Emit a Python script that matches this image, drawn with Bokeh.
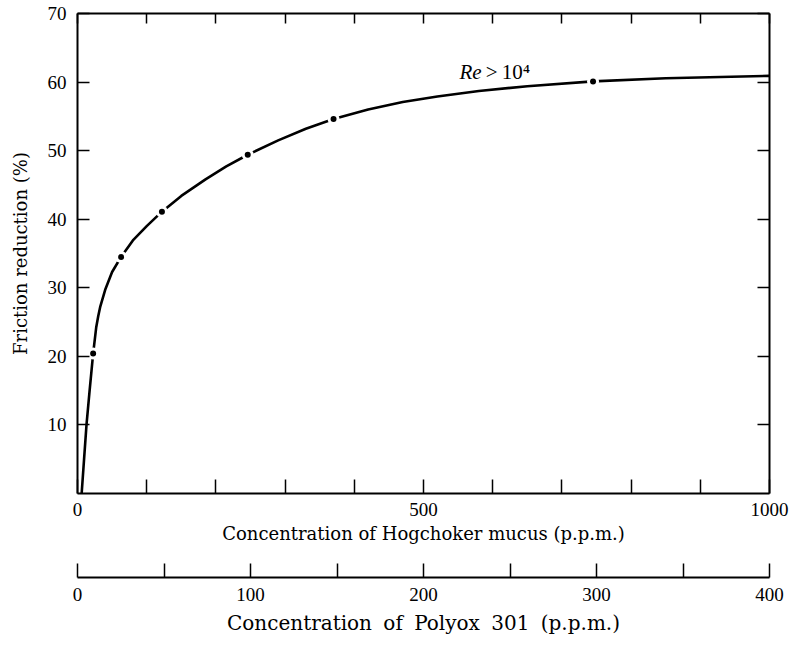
from bokeh.plotting import figure
from bokeh.models import (LinearAxis, Range1d, FixedTicker, Label, ColumnDataSource,
                          CustomLabelingPolicy)
from bokeh.layouts import column
from bokeh.embed import file_html
from bokeh.resources import INLINE

# ---- data ----
hog_conc = [6, 9.5, 13, 17.5, 22.6, 27, 30, 33, 40, 50, 63, 80, 100, 122, 150, 185,
            215, 246, 290, 330, 370, 420, 470, 520, 580, 650, 745, 850, 1000]
friction = [0, 5, 10, 15, 20.4, 24.2, 25.9, 27.3, 29.7, 32.3, 34.5, 36.9, 39.0, 41.1,
            43.4, 45.8, 47.7, 49.4, 51.5, 53.2, 54.6, 56.0, 57.1, 57.9, 58.7, 59.4,
            60.1, 60.55, 60.9]
pt_conc = [22.6, 63, 122, 246, 370, 745]
pt_friction = [20.4, 34.5, 41.1, 49.4, 54.6, 60.1]

hog_major = [0, 500, 1000]
hog_minor = [100, 200, 300, 400, 600, 700, 800, 900]
poly_major = [0, 100, 200, 300, 400]
poly_minor = [50, 150, 250, 350]
y_ticks = [10, 20, 30, 40, 50, 60, 70]

TICK_FONT = "Liberation Serif"
TITLE_FONT = "DejaVu Serif"

curve = ColumnDataSource(dict(x=hog_conc, y=friction))
pts = ColumnDataSource(dict(x=pt_conc, y=pt_friction))

p = figure(width=790, height=562, x_range=Range1d(0, 1000), y_range=Range1d(0, 70),
           min_border_left=77, min_border_right=21, min_border_top=13,
           min_border_bottom=69, output_backend="svg", toolbar_location=None)
p.outline_line_color = None
p.xgrid.visible = False
p.ygrid.visible = False
p.background_fill_color = "white"
p.border_fill_color = "white"

no_labels = CustomLabelingPolicy(code="""
    for (const i of Array.from(indices)) indices.unset(i)
    return indices
""")

def style_axis(ax, tick_len, labels=True):
    ax.axis_line_width = 2
    ax.axis_line_color = "black"
    ax.major_tick_in = tick_len
    ax.major_tick_out = 0
    ax.minor_tick_in = tick_len
    ax.minor_tick_out = 0
    ax.major_tick_line_width = 1.5
    ax.minor_tick_line_width = 1.5
    ax.major_tick_line_color = "black"
    ax.minor_tick_line_color = "black"
    ax.major_label_text_font = TICK_FONT
    ax.major_label_text_font_size = "19px"
    ax.major_label_text_color = "black"
    if not labels:
        ax.major_label_policy = no_labels
        ax.major_label_text_font_size = "0px"
        ax.major_label_standoff = 0
    ax.axis_label_text_font = TITLE_FONT
    ax.axis_label_text_font_style = "normal"
    ax.axis_label_text_font_size = "18px"
    ax.axis_label_text_color = "black"

xa = p.xaxis[0]
xa.ticker = FixedTicker(ticks=hog_major, minor_ticks=hog_minor)
style_axis(xa, 14)
xa.major_label_standoff = 9
xa.axis_label = "Concentration of Hogchoker mucus (p.p.m.)"
xa.axis_label_standoff = 4

ya = p.yaxis[0]
ya.ticker = FixedTicker(ticks=y_ticks, minor_ticks=[])
style_axis(ya, 12)
ya.major_label_standoff = 11
ya.axis_label = "Friction reduction (%)"
ya.axis_label_standoff = 14

top = LinearAxis(ticker=FixedTicker(ticks=hog_major, minor_ticks=hog_minor))
style_axis(top, 10, labels=False)
p.add_layout(top, "above")

right = LinearAxis(ticker=FixedTicker(ticks=y_ticks, minor_ticks=[]))
style_axis(right, 12, labels=False)
p.add_layout(right, "right")

p.line("x", "y", source=curve, line_width=2.6, line_color="black")
p.scatter("x", "y", source=pts, size=12, fill_color="white", line_color=None)
p.scatter("x", "y", source=pts, size=6, fill_color="black", line_color=None)

p.add_layout(Label(x=552, y=61.5, text="Re", text_font=TICK_FONT,
                   text_font_style="italic", text_font_size="21px",
                   text_baseline="alphabetic", text_color="black"))
p.add_layout(Label(x=552, y=61.5, x_offset=22, text="\u2009>\u200910\u2074",
                   text_font=TICK_FONT, text_font_size="21px",
                   text_baseline="alphabetic", text_color="black"))

# ---- second (Polyox) scale ----
p2 = figure(width=790, height=83, x_range=Range1d(0, 400), y_range=Range1d(0, 1),
            min_border_left=77, min_border_right=21, min_border_top=0,
            min_border_bottom=68, output_backend="svg", toolbar_location=None,
            y_axis_location=None)
p2.outline_line_color = None
p2.xgrid.visible = False
p2.ygrid.visible = False
xb = p2.xaxis[0]
xb.ticker = FixedTicker(ticks=poly_major, minor_ticks=poly_minor)
style_axis(xb, 14)
xb.major_label_standoff = 10
xb.axis_label = "Concentration \u2005of \u2005Polyox \u2005301 \u2005(p.p.m.)"
xb.axis_label_text_font_size = "20px"
xb.axis_label_standoff = 7

layout = column(p, p2, spacing=0)
open("out.html", "w").write(file_html(layout, INLINE))
